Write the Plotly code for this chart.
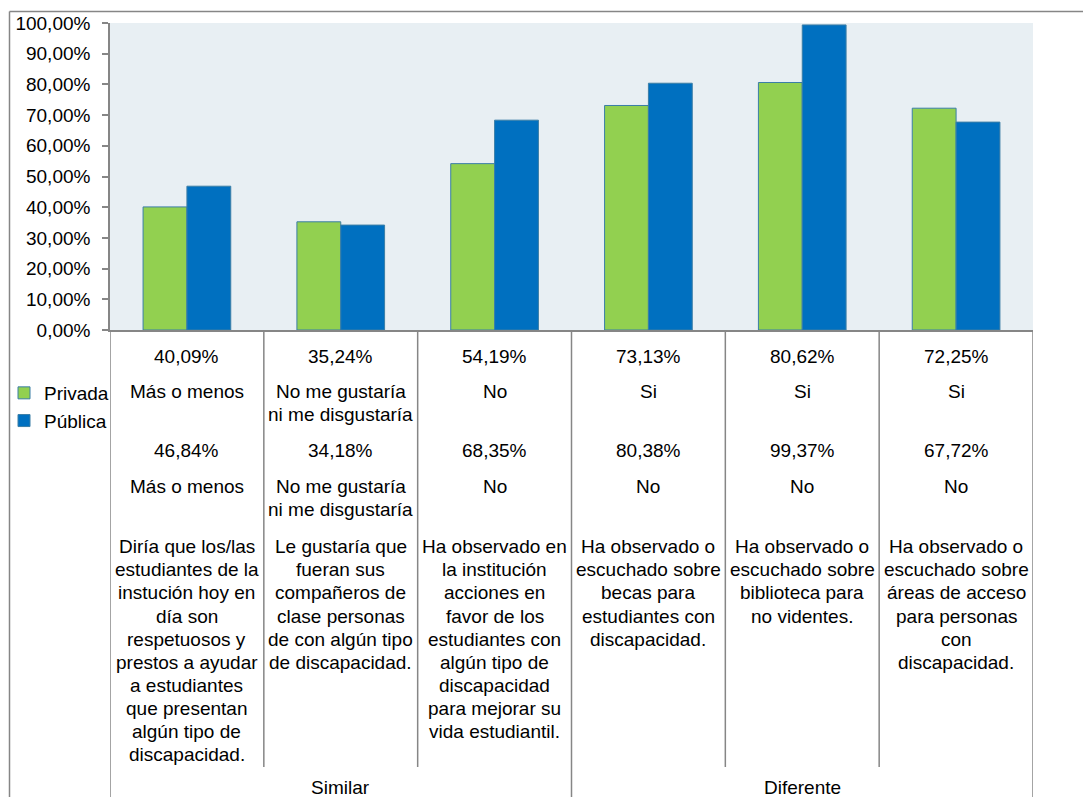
import plotly.graph_objects as go

# ---------------- data ----------------
questions = [
    "Diría que los/las<br>estudiantes de la<br>instución hoy en<br>día son<br>respetuosos y<br>prestos a ayudar<br>a estudiantes<br>que presentan<br>algún tipo de<br>discapacidad.",
    "Le gustaría que<br>fueran sus<br>compañeros de<br>clase personas<br>de con algún tipo<br>de discapacidad.",
    "Ha observado en<br>la institución<br>acciones en<br>favor de los<br>estudiantes con<br>algún tipo de<br>discapacidad<br>para mejorar su<br>vida estudiantil.",
    "Ha observado o<br>escuchado sobre<br>becas para<br>estudiantes con<br>discapacidad.",
    "Ha observado o<br>escuchado sobre<br>biblioteca para<br>no videntes.",
    "Ha observado o<br>escuchado sobre<br>áreas de acceso<br>para personas<br>con<br>discapacidad.",
]
privada_answers = ["Más o menos", "No me gustaría<br>ni me disgustaría", "No", "Si", "Si", "Si"]
publica_answers = ["Más o menos", "No me gustaría<br>ni me disgustaría", "No", "No", "No", "No"]
groups = ["Similar", "Diferente"]
group_sizes = [3, 3]

privada_pct = [40.09, 35.24, 54.19, 73.13, 80.62, 72.25]
publica_pct = [46.84, 34.18, 68.35, 80.38, 99.37, 67.72]

series_names = ["Privada", "Pública"]
series_colors = ["#92D050", "#0070C0"]

y_ticks = [i / 10 for i in range(11)]

# ---------------- layout geometry ----------------
# the page body adds an 8px offset; work in screen coordinates and compensate
OFF = 8
W, H = 1091 - OFF, 797 - OFF
PL, PR, PT, PB = 110, 1033, 23, 330   # screen pixels of the plot area
FONT = "Liberation Sans, Arial, sans-serif"
FS = 19
GRAY = "#868686"


def py(Y):
    return (PB - Y) / (PB - PT)


def px(X):
    return (X - PL) / (PR - PL)


cats = [q.replace("<br>", " ") for q in questions]

fig = go.Figure()
for name, vals, col in zip(series_names, [privada_pct, publica_pct], series_colors):
    fig.add_trace(go.Bar(
        x=cats, y=[v / 100 for v in vals], name=name,
        marker=dict(color=col, line=dict(color="#3B7EA6", width=1)),
    ))


def fmt(v):
    return f"{v:.2f}".replace(".", ",") + "%"


annotations = []


def add_lines(x, text, y_first, spacing=23.2):
    for k, line in enumerate(text.split("<br>")):
        annotations.append(dict(
            x=x, y=py(y_first + k * spacing), xref="x", yref="paper",
            text=line, showarrow=False, xanchor="center", yanchor="middle",
            font=dict(family=FONT, size=FS, color="#000000"),
        ))


for i in range(len(cats)):
    add_lines(i, fmt(privada_pct[i]), 356)
    add_lines(i, privada_answers[i], 391.5)
    add_lines(i, fmt(publica_pct[i]), 450.5)
    add_lines(i, publica_answers[i], 486.5)
    add_lines(i, questions[i], 546.7, 23.1)

start = 0
for g, n in zip(groups, group_sizes):
    add_lines(start + (n - 1) / 2, g, 788)
    start += n

shapes = []
# outer chart border
shapes.append(dict(type="line", xref="paper", yref="paper", x0=px(9.5), x1=px(1100),
                   y0=py(11.5), y1=py(810), line=dict(color=GRAY, width=0)))
shapes[-1] = dict(type="line", xref="paper", yref="paper", x0=px(9.5), x1=px(1100),
                  y0=py(11.5), y1=py(11.5), line=dict(color=GRAY, width=1.5))
shapes.append(dict(type="line", xref="paper", yref="paper", x0=px(9.5), x1=px(9.5),
                   y0=py(11.5), y1=py(810), line=dict(color=GRAY, width=1.5)))
# table separators
group_edges = {0}
acc = 0
for n in group_sizes:
    acc += n
    group_edges.add(acc)
for k in range(len(cats) + 1):
    bottom = 810 if k in group_edges else 767
    shapes.append(dict(type="line", xref="x", yref="paper", x0=k - 0.5, x1=k - 0.5,
                       y0=py(PB), y1=py(bottom), line=dict(color=GRAY, width=1.5)))

fig.update_layout(
    width=W, height=H,
    margin=dict(l=PL - OFF, r=(W + OFF) - PR, t=PT - OFF, b=(H + OFF) - PB, pad=0,
                autoexpand=False),
    paper_bgcolor="white", plot_bgcolor="#E8EFF3",
    separators=",.",
    barmode="group", bargap=0.43, bargroupgap=0,
    font=dict(family=FONT, size=FS, color="#000000"),
    showlegend=True,
    legend=dict(x=px(4), y=py(374), xanchor="left", yanchor="top",
                font=dict(family=FONT, size=FS, color="#000000"),
                bgcolor="rgba(0,0,0,0)", itemwidth=30, tracegroupgap=0),
    annotations=annotations, shapes=shapes,
)
fig.update_xaxes(showticklabels=False, ticks="", showgrid=False, zeroline=False,
                 showline=True, linecolor=GRAY, linewidth=1.5, range=[-0.5, 5.5])
fig.update_yaxes(range=[0, 1], tickvals=y_ticks, tickformat=".2%", showgrid=False,
                 zeroline=False, showline=True, linecolor=GRAY, linewidth=1.5,
                 ticks="outside", ticklen=6, tickcolor=GRAY, tickwidth=1.5,
                 ticklabelstandoff=8,
                 tickfont=dict(family=FONT, size=FS, color="#000000"))

fig.write_html("out.html")
